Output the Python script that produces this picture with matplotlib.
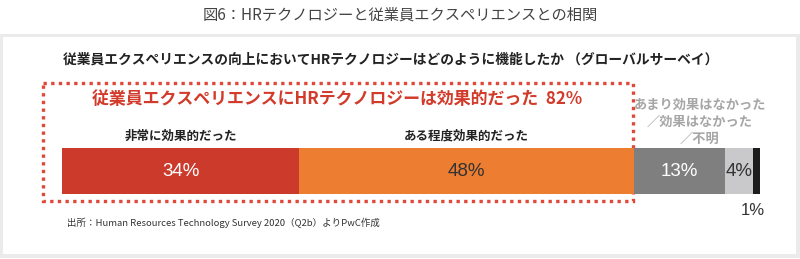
import matplotlib
matplotlib.use("Agg")
import matplotlib.pyplot as plt
from matplotlib.patches import Rectangle

plt.rcParams['font.family'] = ['Noto Sans CJK JP', 'DejaVu Sans']

# data
categories = ['非常に効果的だった', 'ある程度効果的だった', 'あまり効果はなかった／効果はなかった', '不明', 'その他']
values = [34, 48, 13, 4, 1]
colors = ['#cc3a2b', '#ed7d31', '#7f7f7f', '#c9c9cb', '#1c1c1c']
label_colors = ['white', '#333333', 'white', '#333333', '#333333']
title = '図6：HRテクノロジーと従業員エクスペリエンスとの相関'
subtitle = '従業員エクスペリエンスの向上においてHRテクノロジーはどのように機能したか （グローバルサーベイ）'
highlight = '従業員エクスペリエンスにHRテクノロジーは効果的だった  82%'
gray_label = 'あまり効果はなかった\n／効果はなかった\n／不明'
source = '出所：Human Resources Technology Survey 2020（Q2b）よりPwC作成'

W, H = 800, 259
fig = plt.figure(figsize=(W / 100, H / 100), dpi=100)

# overlay in pixel coordinates
bg = fig.add_axes([0, 0, 1, 1])
bg.set_xlim(0, W)
bg.set_ylim(H, 0)
bg.axis('off')

# gray frame around white panel
bg.add_patch(Rectangle((0, 34), W, 224, facecolor='#ebebeb', edgecolor='none'))
bg.add_patch(Rectangle((3, 37), 793, 217, facecolor='white', edgecolor='none'))

bg.text(400, 15, title, ha='center', va='center', fontsize=11, color='#444444')
bg.text(63, 60, subtitle, ha='left', va='center', fontsize=9.9, fontweight='bold', color='#222222')

bg.add_patch(Rectangle((43, 83), 590, 118, facecolor='none', edgecolor='#e0483a',
                       linewidth=2.4, linestyle=(0, (1, 1.3))))
bg.text(92, 99, highlight, ha='left', va='center', fontsize=12.2, fontweight='bold', color='#d23a2a')

bg.text(700, 122, gray_label, ha='center', va='center', fontsize=9.5, fontweight='bold',
        color='#a6a6a6', linespacing=1.25)
bg.text(67, 223, source, ha='left', va='center', fontsize=6.8, color='#333333')

# bar axes
x0, x1, y0, y1 = 62, 760, 148, 194
ax = fig.add_axes([x0 / W, 1 - y1 / H, (x1 - x0) / W, (y1 - y0) / H])
ax.set_xlim(0, sum(values))
ax.set_ylim(-0.5, 0.5)
ax.axis('off')

left = 0
for i, v in enumerate(values):
    ax.barh(0, v, left=left, height=1, color=colors[i], edgecolor='none')
    mid = left + v / 2
    if i < 4:
        ax.text(mid, 0, f'{v}%', ha='center', va='center', fontsize=13.5,
                family='Liberation Sans', color=label_colors[i])
    else:
        ax.text(mid - 0.5, -0.85, f'{v}%', ha='center', va='center', fontsize=12,
                family='Liberation Sans', color=label_colors[i], clip_on=False)
    if i < 2:
        ax.text(mid, 0.76, categories[i], ha='center', va='center', fontsize=9,
                fontweight='bold', color='#222222', clip_on=False)
    left += v

fig.savefig('out.png', dpi=100)
